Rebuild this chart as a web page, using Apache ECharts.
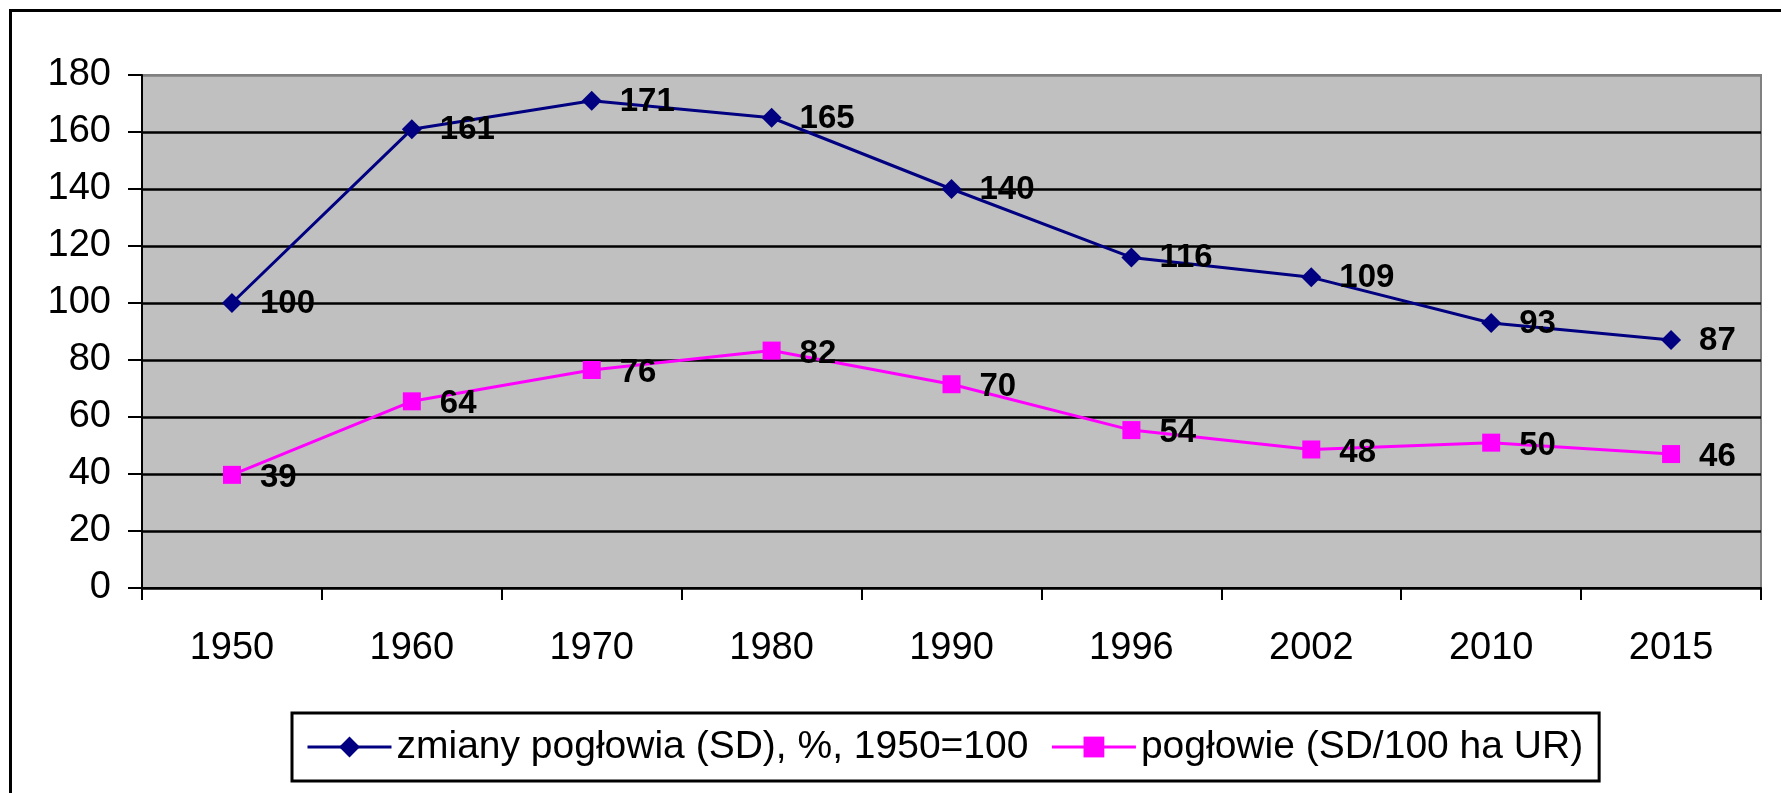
<!DOCTYPE html>
<html><head><meta charset="utf-8">
<script src="https://cdn.jsdelivr.net/npm/echarts@6/dist/echarts.min.js"></script>
<style>html,body{margin:0;padding:0;background:#fff}#c{width:1781px;height:793px}</style>
</head><body><div id="c"></div>
<script>
const years = ['1950','1960','1970','1980','1990','1996','2002','2010','2015'];
const zmianyName = 'zmiany pogłowia (SD), %, 1950=100';
const zmianyValues = [100,161,171,165,140,116,109,93,87];
const poglowieName = 'pogłowie (SD/100 ha UR)';
const poglowieValues = [39.7,65.5,76.5,83.3,71.5,55.4,48.6,51,47];
const poglowieLabels = ['39','64','76','82','70','54','48','50','46'];
const yMin = 0, yMax = 180, yStep = 20;

const FONT = '"Liberation Sans", Arial, sans-serif';
const chart = echarts.init(document.getElementById('c'), null, {renderer:'canvas'});
const splitColors = [];
for (let v = yMin; v <= yMax; v += yStep) splitColors.push(v === yMax ? '#808080' : '#000000');

chart.setOption({
  animation: false,
  backgroundColor: '#ffffff',
  textStyle: {fontFamily: FONT},
  graphic: [{
    type: 'rect', silent: true, z: 100,
    shape: {x: 10.5, y: 10.5, width: 1800, height: 800},
    style: {fill: 'none', stroke: '#000', lineWidth: 3}
  }],
  grid: {
    left: 142, top: 75, right: 20, bottom: 205,
    show: true, backgroundColor: '#C0C0C0', borderColor: '#808080', borderWidth: 2
  },
  legend: {
    left: 292, top: 713,
    data: [zmianyName, poglowieName],
    itemWidth: 84, itemHeight: 26, itemGap: 22,
    lineStyle: {width: 3},
    borderColor: '#000', borderWidth: 3,
    padding: [13, 16, 13, 14],
    textStyle: {fontFamily: FONT, fontSize: 39, color: '#000', lineHeight: 42}
  },
  xAxis: {
    type: 'category', data: years, boundaryGap: true,
    axisLine: {lineStyle: {color: '#000', width: 2}},
    axisTick: {show: true, length: 12, lineStyle: {color: '#000', width: 2}},
    axisLabel: {fontFamily: FONT, fontSize: 38, color: '#000', margin: 42},
    splitLine: {show: false}
  },
  yAxis: {
    type: 'value', min: yMin, max: yMax, interval: yStep,
    axisLine: {show: true, lineStyle: {color: '#000', width: 2}},
    axisTick: {show: true, length: 14, lineStyle: {color: '#000', width: 2}},
    axisLabel: {fontFamily: FONT, fontSize: 38, color: '#000', margin: 31},
    splitLine: {show: true, lineStyle: {color: splitColors, width: 2.5}}
  },
  series: [{
    name: zmianyName, type: 'line', data: zmianyValues,
    symbol: 'diamond', symbolSize: 20,
    lineStyle: {color: '#000080', width: 3},
    itemStyle: {color: '#000080'},
    label: {show: true, position: 'right', distance: 18,
      fontFamily: FONT, fontSize: 33, fontWeight: 'bold', color: '#000', offset: [0, 1]}
  }, {
    name: poglowieName, type: 'line', data: poglowieValues,
    symbol: 'rect', symbolSize: 18,
    lineStyle: {color: '#FF00FF', width: 3},
    itemStyle: {color: '#FF00FF'},
    label: {show: true, position: 'right', distance: 19,
      fontFamily: FONT, fontSize: 33, fontWeight: 'bold', color: '#000', offset: [0, 3],
      formatter: p => poglowieLabels[p.dataIndex]}
  }]
});
</script>
</body></html>
